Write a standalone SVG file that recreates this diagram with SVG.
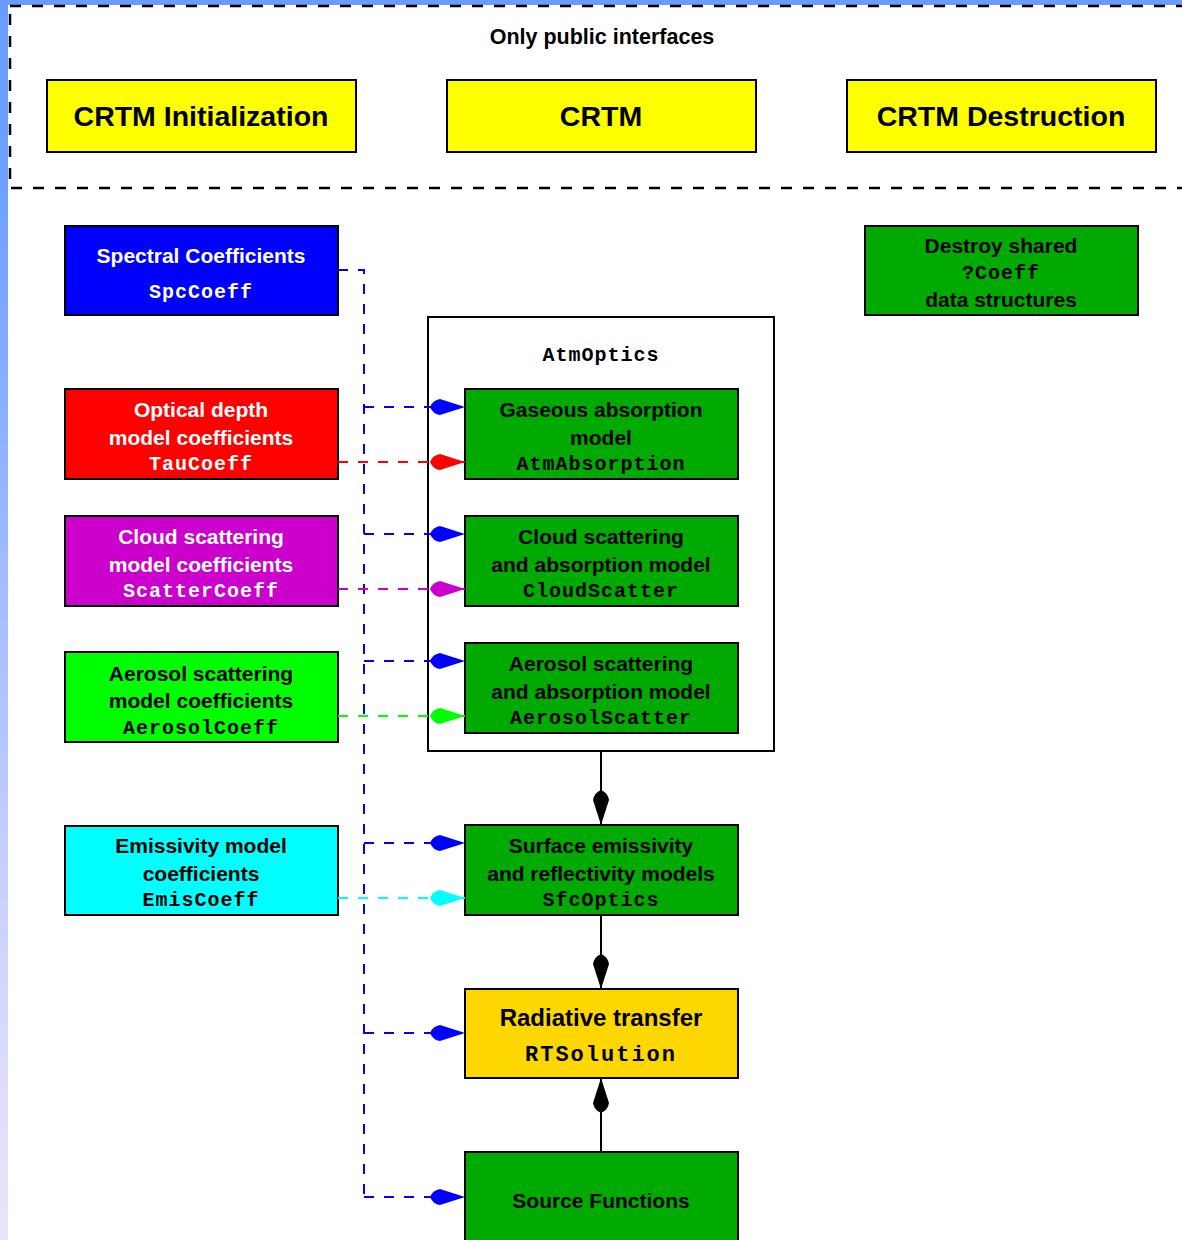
<svg xmlns="http://www.w3.org/2000/svg" width="1182" height="1240" viewBox="0 0 1182 1240">
<style>
.box{stroke:#000;stroke-width:2}
.t{font-family:"Liberation Sans",Arial,sans-serif;font-weight:bold;font-size:21px;text-anchor:middle}
.big{font-size:28.5px}
.m{font-family:"Liberation Mono","Courier New",monospace;font-weight:bold;font-size:20px;letter-spacing:1px;text-anchor:middle}
.w{fill:#fff}
.k{fill:#000}
.dash{fill:none;stroke-width:2;stroke-dasharray:10 10}
.solid{fill:none;stroke:#000;stroke-width:2}
</style>
<defs>
<linearGradient id="strip" x1="0" y1="0" x2="0" y2="1">
<stop offset="0" stop-color="#6a9cff"/>
<stop offset="0.15" stop-color="#6f9fff"/>
<stop offset="0.5" stop-color="#a8bffe"/>
<stop offset="0.8" stop-color="#d4d8fc"/>
<stop offset="1" stop-color="#ece4f8"/>
</linearGradient>
<marker id="dBlue" markerUnits="userSpaceOnUse" markerWidth="40" markerHeight="20" viewBox="0 -10 36 20" refX="35" refY="0" orient="auto"><path d="M0,0 Q3,-7 10,-8 L35,0 L10,8 Q3,7 0,0Z" fill="#0000ff"/></marker>
<marker id="dRed" markerUnits="userSpaceOnUse" markerWidth="40" markerHeight="20" viewBox="0 -10 36 20" refX="35" refY="0" orient="auto"><path d="M0,0 Q3,-7 10,-8 L35,0 L10,8 Q3,7 0,0Z" fill="#ff0000"/></marker>
<marker id="dMag" markerUnits="userSpaceOnUse" markerWidth="40" markerHeight="20" viewBox="0 -10 36 20" refX="35" refY="0" orient="auto"><path d="M0,0 Q3,-7 10,-8 L35,0 L10,8 Q3,7 0,0Z" fill="#cc00cc"/></marker>
<marker id="dLime" markerUnits="userSpaceOnUse" markerWidth="40" markerHeight="20" viewBox="0 -10 36 20" refX="35" refY="0" orient="auto"><path d="M0,0 Q3,-7 10,-8 L35,0 L10,8 Q3,7 0,0Z" fill="#00ff00"/></marker>
<marker id="dCyan" markerUnits="userSpaceOnUse" markerWidth="40" markerHeight="20" viewBox="0 -10 36 20" refX="35" refY="0" orient="auto"><path d="M0,0 Q3,-7 10,-8 L35,0 L10,8 Q3,7 0,0Z" fill="#00ffff"/></marker>
<marker id="dBlack" markerUnits="userSpaceOnUse" markerWidth="40" markerHeight="20" viewBox="0 -10 36 20" refX="35" refY="0" orient="auto"><path d="M0,0 Q3,-7 10,-8 L35,0 L10,8 Q3,7 0,0Z" fill="#000"/></marker>
</defs>

<rect x="0" y="0" width="1182" height="1240" fill="#fff"/>
<rect x="0" y="0" width="8" height="1240" fill="url(#strip)"/>
<rect x="0" y="0" width="1182" height="5" fill="#6a9cff"/>

<g id="public-frame">
<path d="M10,6 H1182" fill="none" stroke="#000" stroke-width="2.5" stroke-dasharray="11 11"/>
<path d="M10,188 H1182" fill="none" stroke="#000" stroke-width="2.5" stroke-dasharray="11 11" stroke-dashoffset="-1"/>
<path d="M10,14 V182" fill="none" stroke="#000" stroke-width="2.5" stroke-dasharray="11 11"/>
<text class="t" x="602" y="44" style="font-size:21.5px">Only public interfaces</text>
</g>

<g id="crtm-init"><rect class="box" x="47" y="80" width="309" height="72" fill="#ffff00"/><text class="t big" x="201" y="126">CRTM Initialization</text></g>
<g id="crtm"><rect class="box" x="447" y="80" width="309" height="72" fill="#ffff00"/><text class="t big" x="601" y="126">CRTM</text></g>
<g id="crtm-destroy"><rect class="box" x="847" y="80" width="309" height="72" fill="#ffff00"/><text class="t big" x="1001" y="126">CRTM Destruction</text></g>

<g id="atmoptics"><rect class="box" x="428" y="317" width="346" height="434" fill="#fff"/><text class="m k" x="601" y="361">AtmOptics</text></g>

<g id="spccoeff"><rect class="box" x="65" y="226" width="273" height="89" fill="#0000ff"/><text class="t w" x="201" y="263">Spectral Coefficients</text><text class="m w" x="201" y="298">SpcCoeff</text></g>
<g id="taucoeff"><rect class="box" x="65" y="389" width="273" height="90" fill="#ff0000"/><text class="t w" x="201" y="417">Optical depth</text><text class="t w" x="201" y="445">model coefficients</text><text class="m w" x="201" y="470">TauCoeff</text></g>
<g id="scattercoeff"><rect class="box" x="65" y="516" width="273" height="90" fill="#cc00cc"/><text class="t w" x="201" y="544">Cloud scattering</text><text class="t w" x="201" y="572">model coefficients</text><text class="m w" x="201" y="597">ScatterCoeff</text></g>
<g id="aerosolcoeff"><rect class="box" x="65" y="652" width="273" height="90" fill="#00ff00"/><text class="t k" x="201" y="681">Aerosol scattering</text><text class="t k" x="201" y="708">model coefficients</text><text class="m k" x="201" y="734">AerosolCoeff</text></g>
<g id="emiscoeff"><rect class="box" x="65" y="826" width="273" height="89" fill="#00ffff"/><text class="t k" x="201" y="853">Emissivity model</text><text class="t k" x="201" y="881">coefficients</text><text class="m k" x="201" y="906">EmisCoeff</text></g>

<g id="destroy-shared"><rect class="box" x="865" y="226" width="273" height="89" fill="#00aa00"/><text class="t k" x="1001" y="253">Destroy shared</text><text class="m k" x="1001" y="279">?Coeff</text><text class="t k" x="1001" y="307">data structures</text></g>

<g id="atmabsorption"><rect class="box" x="465" y="389" width="273" height="90" fill="#00aa00"/><text class="t k" x="601" y="417">Gaseous absorption</text><text class="t k" x="601" y="445">model</text><text class="m k" x="601" y="470">AtmAbsorption</text></g>
<g id="cloudscatter"><rect class="box" x="465" y="516" width="273" height="90" fill="#00aa00"/><text class="t k" x="601" y="544">Cloud scattering</text><text class="t k" x="601" y="572">and absorption model</text><text class="m k" x="601" y="597">CloudScatter</text></g>
<g id="aerosolscatter"><rect class="box" x="465" y="643" width="273" height="90" fill="#00aa00"/><text class="t k" x="601" y="671">Aerosol scattering</text><text class="t k" x="601" y="699">and absorption model</text><text class="m k" x="601" y="724">AerosolScatter</text></g>
<g id="sfcoptics"><rect class="box" x="465" y="825" width="273" height="90" fill="#00aa00"/><text class="t k" x="601" y="853">Surface emissivity</text><text class="t k" x="601" y="881">and reflectivity models</text><text class="m k" x="601" y="906">SfcOptics</text></g>
<g id="rtsolution"><rect class="box" x="465" y="989" width="273" height="89" fill="#ffd700"/><text class="t k" x="601" y="1026" style="font-size:24px">Radiative transfer</text><text class="m k" x="601" y="1061" style="font-size:22px;letter-spacing:2px">RTSolution</text></g>
<g id="sourcefunctions"><rect class="box" x="465" y="1152" width="273" height="100" fill="#00aa00"/><text class="t k" x="601" y="1208">Source Functions</text></g>

<g id="connectors">
<path class="dash" stroke="#0000ff" d="M338,270 H364 V1197"/>
<path class="dash" stroke="#0000ff" d="M364,407 H465" marker-end="url(#dBlue)"/>
<path class="dash" stroke="#0000ff" d="M364,534 H465" marker-end="url(#dBlue)"/>
<path class="dash" stroke="#0000ff" d="M364,661 H465" marker-end="url(#dBlue)"/>
<path class="dash" stroke="#0000ff" d="M364,843 H465" marker-end="url(#dBlue)"/>
<path class="dash" stroke="#0000ff" d="M364,1033 H465" marker-end="url(#dBlue)"/>
<path class="dash" stroke="#0000ff" d="M364,1197 H465" marker-end="url(#dBlue)"/>
<path class="dash" stroke="#ff0000" d="M338,462 H465" marker-end="url(#dRed)"/>
<path class="dash" stroke="#cc00cc" d="M338,589 H465" marker-end="url(#dMag)"/>
<path class="dash" stroke="#00ff00" d="M338,716 H465" marker-end="url(#dLime)"/>
<path class="dash" stroke="#00ffff" d="M338,898 H465" marker-end="url(#dCyan)"/>
<path class="solid" d="M601,751 V825" marker-end="url(#dBlack)"/>
<path class="solid" d="M601,915 V989" marker-end="url(#dBlack)"/>
<path class="solid" d="M601,1152 V1078" marker-end="url(#dBlack)"/>
</g>
</svg>
